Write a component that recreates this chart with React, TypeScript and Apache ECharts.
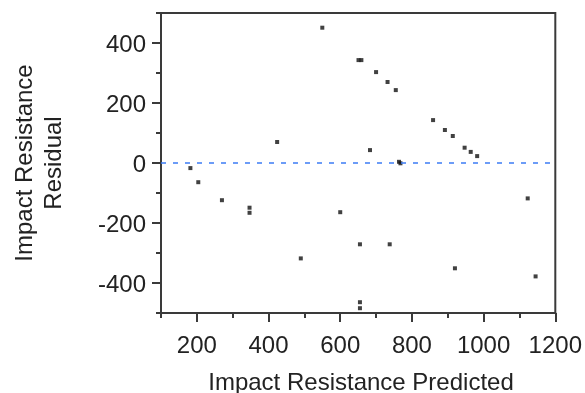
import React, { useEffect, useRef } from "react";
import * as echarts from "echarts";

const predicted = [550, 651, 659, 424, 182, 700, 732, 755, 859, 892, 914, 947, 964, 982, 683, 764, 768, 204, 270, 347, 347, 600, 655, 490, 655, 655, 1123, 738, 920, 1145];
const residual = [451, 343, 343, 70, -17, 303, 270, 243, 143, 110, 90, 51, 37, 23, 43, 4, -1, -64, -124, -149, -166, -164, -271, -318, -464, -484, -118, -271, -351, -378];
const xMajorTicks = [200, 400, 600, 800, 1000, 1200];
const yMajorTicks = [-400, -200, 0, 200, 400];

const FONT = "Liberation Sans, Arial, sans-serif";
const AXIS_COLOR = "#3a3a3a";
const TEXT_COLOR = "#222";

export default function App() {
  const ref = useRef<HTMLDivElement>(null);
  useEffect(() => {
    if (!ref.current) return;
    const chart = echarts.init(ref.current, undefined, { renderer: "svg" });
    const line = { color: AXIS_COLOR, width: 2 };
    const label = { fontSize: 24, fontFamily: FONT, color: TEXT_COLOR, formatter: (v: number) => String(v) };
    chart.setOption({
      animation: false,
      grid: { left: 161, top: 13, right: 25, bottom: 80, show: true, borderColor: AXIS_COLOR, borderWidth: 2 },
      xAxis: [
        {
          type: "value", min: 100, max: 1200, interval: 100,
          axisLine: { show: true, onZero: false, lineStyle: line },
          axisTick: { show: true, length: 5, lineStyle: line },
          axisLabel: { show: false },
          splitLine: { show: false },
        },
        {
          type: "value", min: 100, max: 1200, position: "bottom",
          axisLine: { show: false, onZero: false },
          axisTick: { show: true, length: 9, customValues: xMajorTicks, lineStyle: line },
          axisLabel: { ...label, customValues: xMajorTicks, margin: 19 },
          splitLine: { show: false },
        },
      ],
      yAxis: [
        {
          type: "value", min: -500, max: 500, interval: 100,
          axisLine: { show: true, onZero: false, lineStyle: line },
          axisTick: { show: true, length: 5, lineStyle: line },
          axisLabel: { show: false },
          splitLine: { show: false },
        },
        {
          type: "value", min: -500, max: 500, position: "left",
          axisLine: { show: false, onZero: false },
          axisTick: { show: true, length: 9, customValues: yMajorTicks, lineStyle: line },
          axisLabel: { ...label, customValues: yMajorTicks, margin: 15 },
          splitLine: { show: false },
        },
      ],
      graphic: [
        {
          type: "text", x: 361, y: 381,
          style: { text: "Impact Resistance Predicted", font: `24px ${FONT}`, fill: TEXT_COLOR, textAlign: "center", textVerticalAlign: "middle" },
        },
        {
          type: "text", x: 38, y: 163, rotation: Math.PI / 2,
          style: { text: "Impact Resistance\nResidual", font: `24px ${FONT}`, lineHeight: 29, fill: TEXT_COLOR, textAlign: "center", textVerticalAlign: "middle" },
        },
      ],
      series: [
        {
          type: "scatter",
          xAxisIndex: 0, yAxisIndex: 0,
          symbol: "rect", symbolSize: 4,
          itemStyle: { color: "#111" },
          data: predicted.map((x, i) => [x, residual[i]]),
          markLine: {
            silent: true, symbol: "none", label: { show: false },
            lineStyle: { color: "#3d7cf5", width: 1.5, type: [5, 7] },
            data: [{ yAxis: 0 }],
          },
        },
      ],
    });
    return () => chart.dispose();
  }, []);
  return <div ref={ref} style={{ position: "fixed", left: 0, top: 0, width: 585, height: 393 }} />;
}
